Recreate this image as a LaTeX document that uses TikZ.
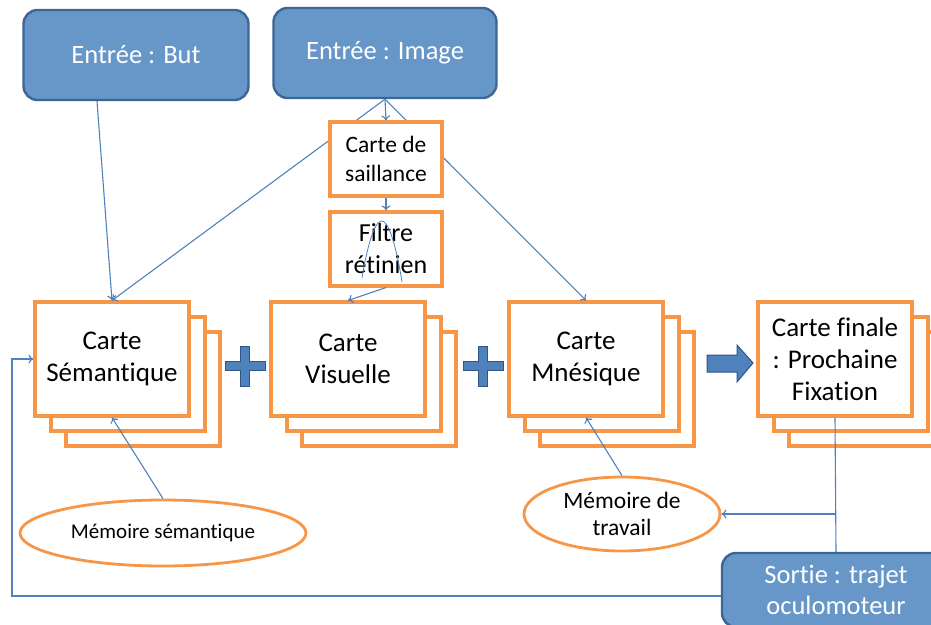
\documentclass[tikz,border=0pt]{standalone}
\usepackage{fontspec}
\setmainfont{Carlito}[Ligatures=NoCommon]
\usetikzlibrary{arrows.meta,shapes.geometric}
\definecolor{boxfill}{RGB}{103,151,201}
\definecolor{boxline}{RGB}{60,102,148}
\definecolor{mapline}{RGB}{247,150,70}
\definecolor{linkblue}{RGB}{79,129,189}
\definecolor{signfill}{RGB}{79,129,189}
\definecolor{signline}{RGB}{50,86,130}

\begin{document}
\begin{tikzpicture}[x=1pt,y=-1pt,
  entry/.style={draw=boxline, fill=boxfill, line width=2.4pt, rounded corners=14pt,
    text=white, align=center, inner sep=0pt, font=\fontsize{26.5}{31}\selectfont},
  carte/.style={draw=mapline, fill=white, line width=3.1pt, minimum width=154pt,
    minimum height=114pt, align=center, inner sep=0pt, font=\fontsize{27}{32}\selectfont},
  petit/.style={draw=mapline, fill=white, line width=3.1pt, minimum width=112pt,
    minimum height=74pt, align=center, inner sep=0pt},
  memo/.style={ellipse, draw=mapline, fill=white, line width=2.8pt, align=center, inner sep=0pt},
  link/.style={draw=linkblue, line width=1.1pt, -{To[length=5pt,width=9pt]}},
  sign/.style={fill=signfill, draw=signline, line width=1pt}]
\useasboundingbox (0,0) rectangle (931,624);

\node[entry, minimum width=225pt, minimum height=90pt] (but) at (136,55) {Entrée : But};
\node[entry, minimum width=223pt, minimum height=90pt] (img) at (385,53) {Entrée : Image};

\foreach \x in {112,348,586,835} {
  \node[carte] at (\x+31,389) {};
  \node[carte] at (\x+16,374) {};
}
\node[carte] (sem) at (112,359) {Carte\\Sémantique};
\node[carte] (vis) at (348,359) {Carte\\Visuelle};
\node[carte] (mne) at (586,359) {Carte\\Mnésique};
\node[carte] (fin) at (835,359) {Carte finale\\: Prochaine\\Fixation};

\node[memo, minimum width=286pt, minimum height=66pt, font=\fontsize{21}{24}\selectfont]
  (msem) at (163,533) {Mémoire sémantique};
\node[memo, minimum width=196pt, minimum height=74pt, font=\fontsize{23.5}{27}\selectfont]
  (mtrav) at (622,514) {Mémoire de\\travail};
\node[entry, minimum width=228pt, minimum height=74pt] (sortie) at (836,590) {Sortie : trajet\\oculomoteur};

\draw[link] ([xshift=-39pt]but.south) -- (sem.north);
\draw[link] (img.south) -- (sem.north);
\draw[link] (img.south) -- (mne.north);

\node[petit, font=\fontsize{23.5}{29}\selectfont] (sal) at (386,159) {Carte de\\saillance};
\node[petit, font=\fontsize{26}{32}\selectfont] (fil) at (386,249) {Filtre\\rétinien};

\draw[link] (img.south) -- (sal.north);
\draw[link] (sal.south) -- (fil.north);
\draw[draw=linkblue, line width=0.8pt] plot [smooth, tension=1] coordinates {(362,278) (382,221) (402,282)};
\draw[link] (fil.south) -- (vis.north);
\draw[link] (msem.north) -- (sem.south);
\draw[link] (mtrav.north) -- (mne.south);

\draw[draw=linkblue, line width=1.1pt] (fin.south) -- (sortie.north);
\coordinate (branch) at (fin.south |- mtrav.east);
\draw[link] (branch) -- (mtrav.east);
\coordinate (retour) at (12,596);
\draw[link] ([yshift=-6pt]sortie.west) -- (retour) |- (sem.west);

\foreach \x in {245,483}
  \filldraw[sign] (\x-4.5,346) -- (\x+4.5,346) -- (\x+4.5,361.5) -- (\x+20,361.5)
    -- (\x+20,370.5) -- (\x+4.5,370.5) -- (\x+4.5,386) -- (\x-4.5,386) -- (\x-4.5,370.5)
    -- (\x-20,370.5) -- (\x-20,361.5) -- (\x-4.5,361.5) -- cycle;
\filldraw[sign] (707,355) -- (737,355) -- (737,345) -- (753,363) -- (737,382)
  -- (737,372) -- (707,372) -- cycle;
\end{tikzpicture}
\end{document}
